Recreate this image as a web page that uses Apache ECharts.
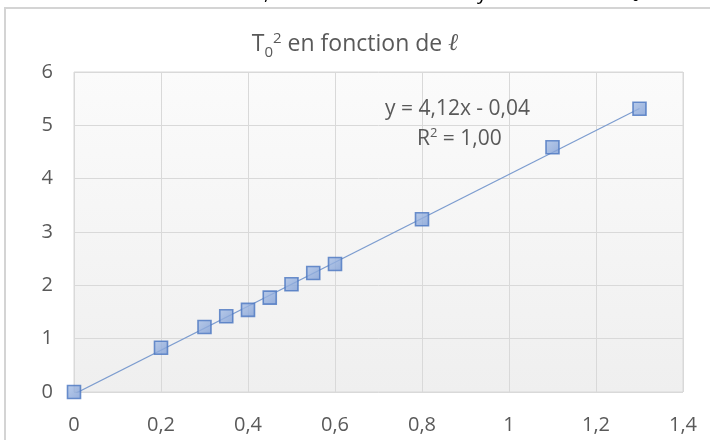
<!DOCTYPE html>
<html>
<head>
<meta charset="utf-8">
<script src="https://cdn.jsdelivr.net/npm/echarts@6/dist/echarts.min.js"></script>
<style>
  html, body { margin: 0; padding: 0; background: #ffffff; }
  #chart { width: 710px; height: 440px; }
</style>
</head>
<body>
<div id="chart"></div>
<script>
// Measured pendulum length ℓ and squared small-angle period T0²
const lengths = [0, 0.2, 0.3, 0.35, 0.4, 0.45, 0.5, 0.55, 0.6, 0.8, 1.1, 1.3];
const periodsSquared = [0, 0.83, 1.22, 1.42, 1.54, 1.77, 2.02, 2.23, 2.40, 3.24, 4.59, 5.31];

// Linear fit shown on the chart
const fitSlope = 4.12;
const fitIntercept = -0.04;
const fitR2 = 1.00;

const xTicks = [0, 0.2, 0.4, 0.6, 0.8, 1, 1.2, 1.4];
const yTicks = [0, 1, 2, 3, 4, 5, 6];

const frenchNumber = (v, digits) =>
  (digits === undefined ? String(v) : v.toFixed(digits)).replace('.', ',');

const points = lengths.map((x, i) => [x, periodsSquared[i]]);
const xFirst = lengths[0];
const xLast = lengths[lengths.length - 1];
const fitLine = [
  [xFirst, fitSlope * xFirst + fitIntercept],
  [xLast, fitSlope * xLast + fitIntercept]
];

const FONT = '"Open Sans", "Noto Sans", sans-serif';
const GREY_TEXT = '#595959';

const chart = echarts.init(document.getElementById('chart'), null, { renderer: 'canvas' });

chart.setOption({
  animation: false,
  backgroundColor: '#ffffff',
  grid: {
    left: 74, top: 72, right: 27, bottom: 48,
    show: true,
    borderColor: '#d9d9d9',
    borderWidth: 1,
    backgroundColor: new echarts.graphic.LinearGradient(0, 0, 0, 1, [
      { offset: 0, color: '#fbfbfb' },
      { offset: 1, color: '#efefef' }
    ])
  },
  xAxis: {
    type: 'value',
    min: xTicks[0],
    max: xTicks[xTicks.length - 1],
    interval: 0.2,
    axisLine: { show: false },
    axisTick: { show: false },
    splitLine: { show: true, lineStyle: { color: '#d9d9d9', width: 1 } },
    axisLabel: {
      color: GREY_TEXT,
      fontFamily: FONT,
      fontSize: 20,
      margin: 23,
      formatter: v => frenchNumber(Math.round(v * 10) / 10)
    }
  },
  yAxis: {
    type: 'value',
    min: yTicks[0],
    max: yTicks[yTicks.length - 1],
    interval: 1,
    axisLine: { show: false },
    axisTick: { show: false },
    splitLine: { show: true, lineStyle: { color: '#d9d9d9', width: 1 } },
    axisLabel: {
      color: GREY_TEXT,
      fontFamily: FONT,
      fontSize: 20,
      margin: 21,
      formatter: v => frenchNumber(v)
    }
  },
  title: {
    text: '{t|T}{sub|0}{sup|2}{t| en fonction de }{ell|ℓ}',
    left: 'center',
    top: 23,
    textStyle: {
      fontWeight: 'normal',
      rich: {
        t: { fontFamily: FONT, fontSize: 23, fontWeight: 'normal', color: GREY_TEXT, lineHeight: 32, verticalAlign: 'middle' },
        sub: { fontFamily: FONT, fontSize: 15, fontWeight: 'normal', color: GREY_TEXT, lineHeight: 32, verticalAlign: 'bottom' },
        sup: { fontFamily: FONT, fontSize: 15, fontWeight: 'normal', color: GREY_TEXT, lineHeight: 32, verticalAlign: 'top', padding: [3, 0, 0, 0] },
        ell: { fontFamily: '"DejaVu Serif", serif', fontStyle: 'italic', fontWeight: 'normal', fontSize: 24, color: GREY_TEXT, lineHeight: 32, verticalAlign: 'middle' }
      }
    }
  },
  graphic: [
    // outer chart frame
    {
      type: 'rect',
      shape: { x: 5, y: 8, width: 720, height: 450 },
      style: { fill: 'none', stroke: '#d4d4d4', lineWidth: 2 },
      z: 0
    },
    // fit equation
    {
      type: 'text',
      left: 385, top: 99,
      style: {
        text: 'y = ' + frenchNumber(fitSlope, 2) + 'x - ' + frenchNumber(Math.abs(fitIntercept), 2),
        fill: GREY_TEXT, font: '21px ' + FONT
      },
      z: 10
    },
    {
      type: 'text',
      left: 417, top: 125,
      style: {
        rich: {
          n: { fontFamily: FONT, fontSize: 21, fill: GREY_TEXT, lineHeight: 28 },
          s: { fontFamily: FONT, fontSize: 13, fill: GREY_TEXT, lineHeight: 28, verticalAlign: 'top', padding: [2, 0, 0, 0] }
        },
        text: '{n|R}{s|2}{n| = ' + frenchNumber(fitR2, 2) + '}'
      },
      z: 10
    },
    // cut-off line of document text above the frame
    { type: 'text', left: 264, top: -17, style: { text: ',', fill: '#000', font: '20px ' + FONT }, z: 10 },
    { type: 'text', left: 477, top: -17, style: { text: 'y', fill: '#000', font: '20px ' + FONT }, z: 10 },
    { type: 'text', left: 632, top: -9, style: { text: '0', fill: '#000', font: '13px ' + FONT }, z: 10 }
  ],
  series: [
    {
      name: 'fit',
      type: 'line',
      data: fitLine,
      showSymbol: false,
      symbol: 'none',
      lineStyle: { color: '#7c9ccf', width: 1.2 },
      z: 2
    },
    {
      name: 'T0²',
      type: 'scatter',
      data: points,
      symbol: 'rect',
      symbolSize: 13,
      itemStyle: {
        color: new echarts.graphic.LinearGradient(0, 0, 1, 1, [
          { offset: 0, color: '#a9c0e6' },
          { offset: 1, color: '#7b9bd4' }
        ]),
        borderColor: '#4a76c0',
        borderWidth: 1.6
      },
      z: 3
    }
  ]
});
</script>
</body>
</html>
